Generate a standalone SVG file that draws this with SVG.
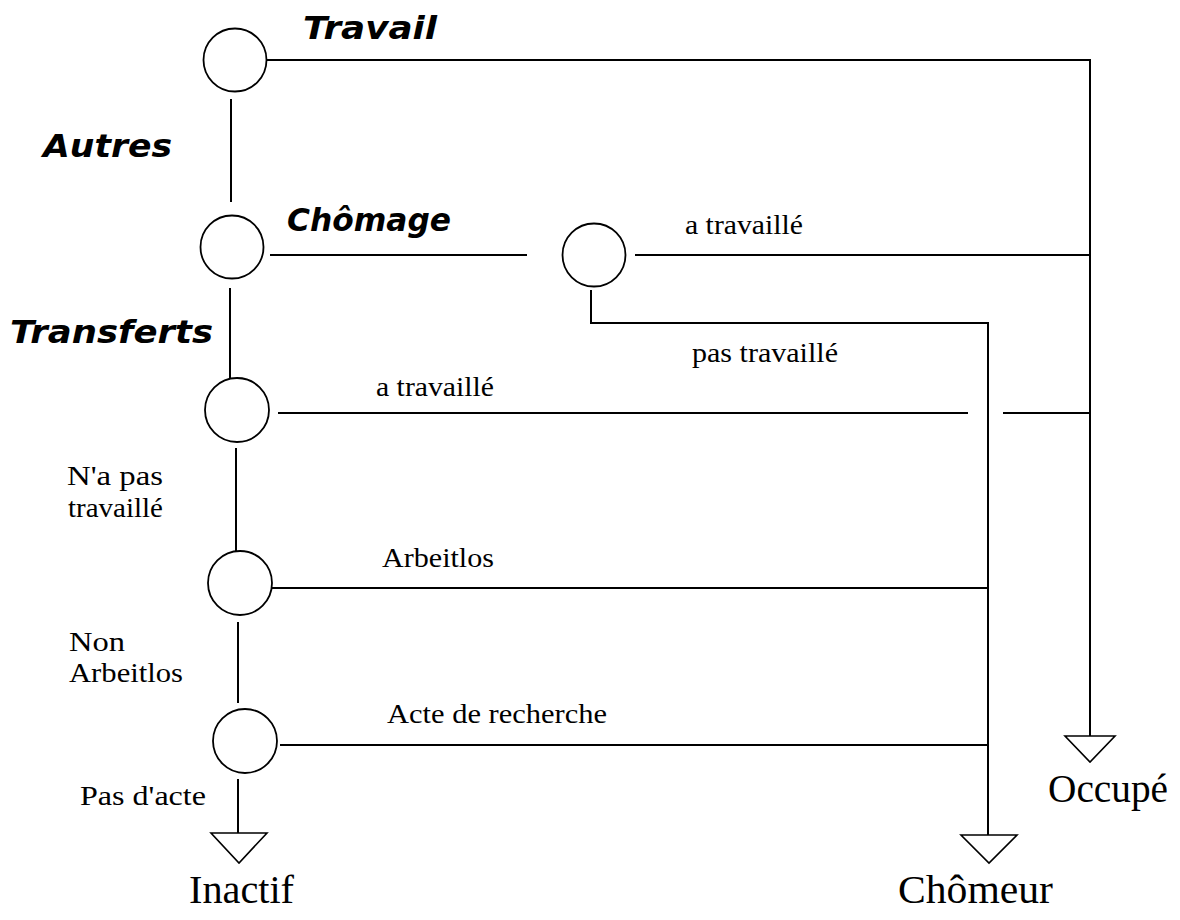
<svg xmlns="http://www.w3.org/2000/svg" width="1180" height="920" viewBox="0 0 1180 920">
<style>
.bg{fill:#fff}
.node{fill:#fff;stroke:#000;stroke-width:1.8}
.ln{fill:none;stroke:#000;stroke-width:2}
.tri{fill:#fff;stroke:#000;stroke-width:1.6}
.bi{font-family:"DejaVu Sans",sans-serif;font-weight:bold;font-style:oblique;font-size:32px;fill:#000}
.sm{font-family:"Liberation Serif","Times New Roman",serif;font-size:28px;fill:#000}
.lg{font-family:"Liberation Serif","Times New Roman",serif;font-size:40px;fill:#000}
</style>
<rect class="bg" x="0" y="0" width="1180" height="920"/>
<g id="connectors">
<path class="ln" d="M266 60 H1090 V736"/>
<path class="ln" d="M231 99 V202"/>
<path class="ln" d="M270 255 H527"/>
<path class="ln" d="M635 255 H1090"/>
<path class="ln" d="M591 290 V323 H988 V835"/>
<path class="ln" d="M230 288 V379"/>
<path class="ln" d="M278 413 H968"/>
<path class="ln" d="M1003 413 H1090"/>
<path class="ln" d="M236 448 V552"/>
<path class="ln" d="M272 588 H988"/>
<path class="ln" d="M238 622 V703"/>
<path class="ln" d="M280 745 H988"/>
<path class="ln" d="M238 779 V833"/>
</g>
<g id="n-travail"><circle class="node" cx="235" cy="60" r="31.5"/></g>
<g id="n-chomage"><circle class="node" cx="232" cy="247" r="31.5"/></g>
<g id="n-chomage2"><circle class="node" cx="594" cy="255" r="31.5"/></g>
<g id="n-transferts"><circle class="node" cx="237" cy="410" r="32"/></g>
<g id="n-arbeitlos"><circle class="node" cx="240" cy="583" r="32"/></g>
<g id="n-acte"><circle class="node" cx="245" cy="741" r="32"/></g>
<g id="t-inactif"><polygon class="tri" points="211,833 267,833 239,863"/><text class="lg" x="189" y="903" textLength="105" lengthAdjust="spacingAndGlyphs">Inactif</text></g>
<g id="t-chomeur"><polygon class="tri" points="961,835 1017,835 989,863"/><text class="lg" x="898" y="903" textLength="155" lengthAdjust="spacingAndGlyphs">Chômeur</text></g>
<g id="t-occupe"><polygon class="tri" points="1065,736 1115,736 1090,762"/><text class="lg" x="1048" y="802" textLength="120" lengthAdjust="spacingAndGlyphs">Occupé</text></g>
<g id="labels">
<text class="bi" x="303" y="39" textLength="134" lengthAdjust="spacingAndGlyphs">Travail</text>
<text class="bi" x="43" y="157" textLength="129" lengthAdjust="spacingAndGlyphs">Autres</text>
<text class="bi" x="287" y="231" textLength="164" lengthAdjust="spacingAndGlyphs">Chômage</text>
<text class="bi" x="10" y="343" textLength="203" lengthAdjust="spacingAndGlyphs">Transferts</text>
<text class="sm" x="685" y="234" textLength="118" lengthAdjust="spacingAndGlyphs">a travaillé</text>
<text class="sm" x="692" y="362" textLength="146" lengthAdjust="spacingAndGlyphs">pas travaillé</text>
<text class="sm" x="376" y="396" textLength="118" lengthAdjust="spacingAndGlyphs">a travaillé</text>
<text class="sm" x="67" y="485" textLength="96" lengthAdjust="spacingAndGlyphs">N'a pas</text>
<text class="sm" x="68" y="517" textLength="95" lengthAdjust="spacingAndGlyphs">travaillé</text>
<text class="sm" x="382" y="567" textLength="112" lengthAdjust="spacingAndGlyphs">Arbeitlos</text>
<text class="sm" x="69" y="651" textLength="56" lengthAdjust="spacingAndGlyphs">Non</text>
<text class="sm" x="69" y="682" textLength="114" lengthAdjust="spacingAndGlyphs">Arbeitlos</text>
<text class="sm" x="387" y="723" textLength="220" lengthAdjust="spacingAndGlyphs">Acte de recherche</text>
<text class="sm" x="80" y="805" textLength="126" lengthAdjust="spacingAndGlyphs">Pas d'acte</text>
</g>
</svg>
